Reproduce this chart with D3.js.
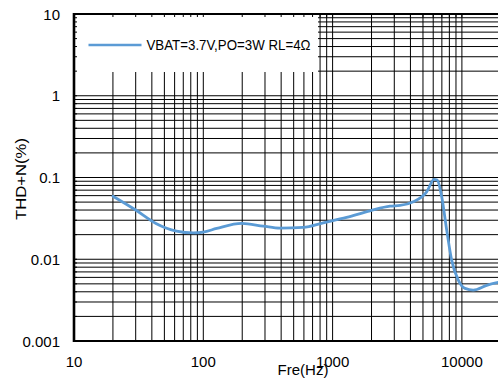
<!DOCTYPE html>
<html>
<head>
<meta charset="utf-8">
<script src="https://cdn.jsdelivr.net/npm/d3@7"></script>
<style>
html,body{margin:0;padding:0;background:#fff;}
svg{display:block;}
text{font-family:"Liberation Sans",Arial,sans-serif;fill:#000;}
</style>
</head>
<body>
<svg id="chart" width="498" height="382"></svg>
<script>
// ---- data ----
const freq = [20, 30, 43, 62, 84, 100, 127, 198, 291, 392, 593, 847, 1284, 1946, 2780, 3320, 4210, 5340, 6090, 6440, 6980, 7630, 8330, 9380, 10560, 12250, 15550, 20000];
const thd  = [0.059, 0.040, 0.0274, 0.0221, 0.0210, 0.0215, 0.0238, 0.0274, 0.0254, 0.0240, 0.0245, 0.0279, 0.0325, 0.0391, 0.0447, 0.0455, 0.0505, 0.0668, 0.0948, 0.093, 0.058, 0.0227, 0.00975, 0.00555, 0.0044, 0.0042, 0.0048, 0.0053];
const xTickLabels = [10, 100, 1000, 10000];
const yTickLabels = [0.001, 0.01, 0.1, 1, 10];
const legendLabel = "VBAT=3.7V,PO=3W RL=4\u03A9";
const xTitle = "Fre(Hz)";
const yTitle = "THD+N(%)";

// ---- layout ----
const svg = d3.select("#chart");
const L = 74, T = 14, B = 341;
const x = d3.scaleLog().domain([10, 20000]).range([L, L + Math.log10(2000) * 129.3]);
const y = d3.scaleLog().domain([0.001, 10]).range([B, T]);
const R = 498;

// grid values
const xGrid = [];
[10, 100, 1000, 10000].forEach(d => { for (let k = 1; k <= 9; k++) { const v = d * k; if (v > 10 && v <= 20000) xGrid.push(v); } });
const yGrid = [];
[0.001, 0.01, 0.1, 1].forEach(d => { for (let k = 1; k <= 9; k++) { const v = d * k; if (v > 0.001) yGrid.push(v); } });

const g = svg.append("g");
g.selectAll("line.vg").data(xGrid).join("line")
  .attr("x1", d => x(d)).attr("x2", d => x(d))
  .attr("y1", T).attr("y2", B)
  .attr("stroke", "#000").attr("stroke-width", 1);
g.selectAll("line.hg").data(yGrid).join("line")
  .attr("x1", L).attr("x2", R)
  .attr("y1", d => y(d)).attr("y2", d => y(d))
  .attr("stroke", "#000").attr("stroke-width", 1);

// legend box (covers grid)
svg.append("rect").attr("x", L + 1).attr("y", T + 1).attr("width", 318 - L - 1).attr("height", 72 - T - 1).attr("fill", "#fff");

// small inner ticks along top and left
svg.selectAll("line.tt").data(xGrid).join("line")
  .attr("x1", d => x(d)).attr("x2", d => x(d)).attr("y1", T).attr("y2", T + 3)
  .attr("stroke", "#000").attr("stroke-width", 1);
svg.selectAll("line.lt").data(yGrid).join("line")
  .attr("x1", L).attr("x2", L + 3).attr("y1", d => y(d)).attr("y2", d => y(d))
  .attr("stroke", "#000").attr("stroke-width", 1);

// legend
svg.append("line").attr("x1", 88.5).attr("x2", 141.5).attr("y1", 45).attr("y2", 45)
  .attr("stroke", "#5B9BD5").attr("stroke-width", 2.5);
svg.append("text").attr("x", 146.5).attr("y", 50).attr("font-size", 14)
  .attr("textLength", 164).attr("lengthAdjust", "spacingAndGlyphs").text(legendLabel);

// curve
const line = d3.line().x((d, i) => x(freq[i])).y(d => y(d)).curve(d3.curveMonotoneX);
svg.append("path").datum(thd).attr("d", line)
  .attr("fill", "none").attr("stroke", "#5B9BD5").attr("stroke-width", 2.8)
  .attr("stroke-linejoin", "round").attr("stroke-linecap", "round");

// frame
svg.append("line").attr("x1", L).attr("x2", L).attr("y1", T - 1).attr("y2", B + 1).attr("stroke", "#000").attr("stroke-width", 2.6);
svg.append("line").attr("x1", L - 1).attr("x2", R).attr("y1", B).attr("y2", B).attr("stroke", "#000").attr("stroke-width", 2.2);
svg.append("line").attr("x1", L - 1).attr("x2", R).attr("y1", T).attr("y2", T).attr("stroke", "#000").attr("stroke-width", 2.2);

// tick labels
svg.selectAll("text.yl").data(yTickLabels).join("text")
  .attr("x", 60).attr("y", d => y(d) + 5.5).attr("text-anchor", "end")
  .attr("font-size", 15).text(d => String(d));
svg.selectAll("text.xl").data(xTickLabels).join("text")
  .attr("x", d => x(d)).attr("y", 367).attr("text-anchor", "middle")
  .attr("font-size", 15).text(d => String(d));

// axis titles
svg.append("text").attr("x", 303).attr("y", 375).attr("text-anchor", "middle").attr("font-size", 15).text(xTitle);
svg.append("text").attr("transform", "translate(25.5,179) rotate(-90)").attr("text-anchor", "middle").attr("font-size", 15)
  .attr("textLength", 82).attr("lengthAdjust", "spacingAndGlyphs").text(yTitle);
</script>
</body>
</html>
